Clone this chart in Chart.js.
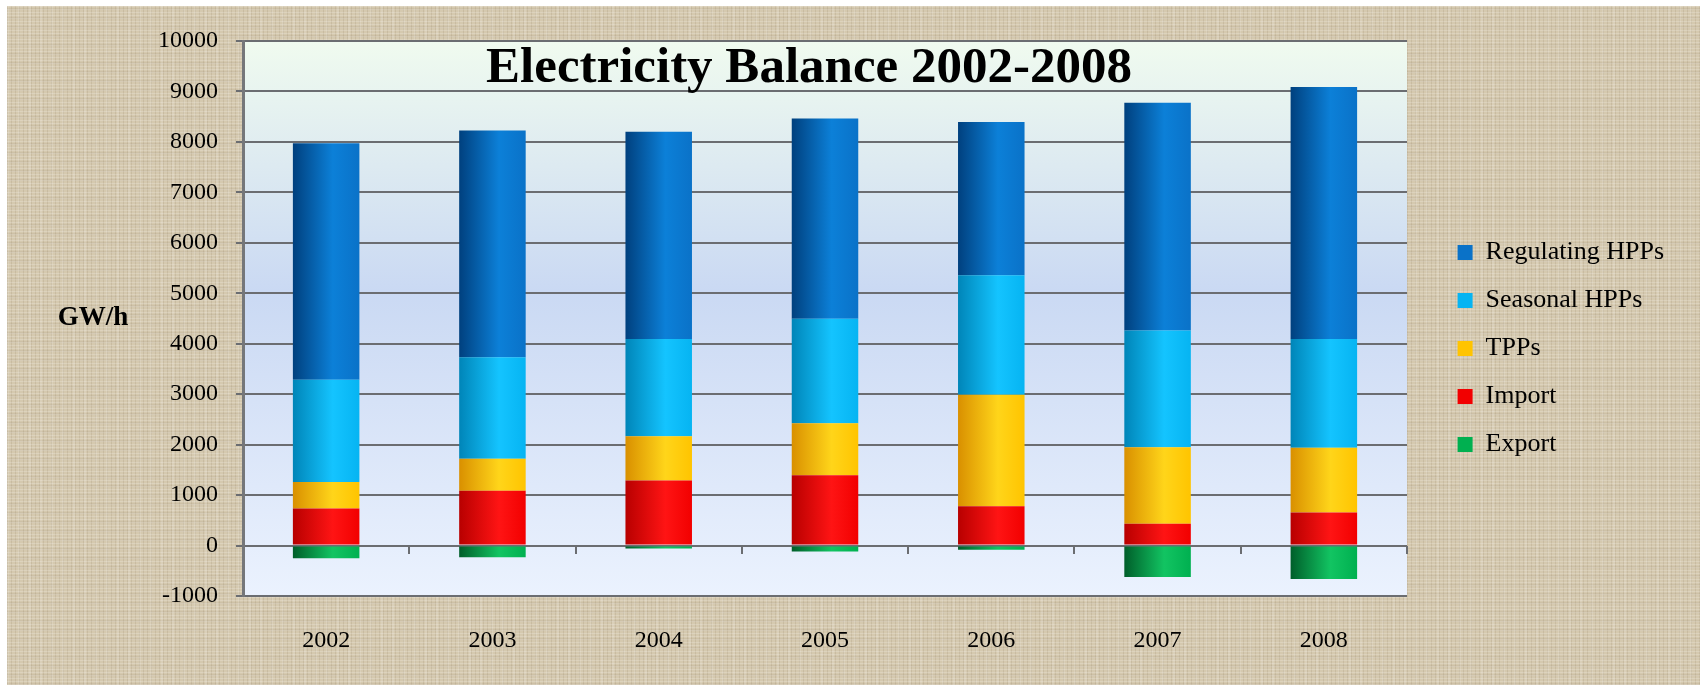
<!DOCTYPE html>
<html>
<head>
<meta charset="utf-8">
<script src="https://cdn.jsdelivr.net/npm/chart.js@4/dist/chart.umd.min.js"></script>
<style>
html,body{margin:0;padding:0;background:#fff;width:1700px;height:685px;overflow:hidden}
#bg{position:absolute;left:7px;top:6px;width:1693px;height:679px;background-color:#d5c9af;
background-image:
 repeating-linear-gradient(0deg, rgba(255,255,255,0.18) 0px, rgba(255,255,255,0.18) 1px, rgba(0,0,0,0) 1px, rgba(0,0,0,0) 3px),
 repeating-linear-gradient(90deg, rgba(110,90,60,0.12) 0px, rgba(110,90,60,0.12) 1px, rgba(0,0,0,0) 1px, rgba(0,0,0,0) 4px),
 repeating-linear-gradient(90deg, rgba(255,255,255,0.12) 0px, rgba(255,255,255,0.12) 2px, rgba(0,0,0,0) 2px, rgba(0,0,0,0) 11px),
 repeating-linear-gradient(0deg, rgba(110,90,60,0.08) 0px, rgba(110,90,60,0.08) 2px, rgba(0,0,0,0) 2px, rgba(0,0,0,0) 9px);}
#c{position:absolute;left:0;top:0}
</style>
</head>
<body>
<div id="bg"></div>
<canvas id="c" width="1700" height="685"></canvas>
<script>
// ---- data ----
const categories = ['2002', '2003', '2004', '2005', '2006', '2007', '2008'];
const legendOrder = ['Regulating HPPs', 'Seasonal HPPs', 'TPPs', 'Import', 'Export'];
const importValues     = [735, 1085, 1290, 1395, 780, 430, 655];
const tppValues        = [525, 635, 875, 1030, 2210, 1520, 1285];
const seasonalValues   = [2025, 2010, 1930, 2070, 2365, 2310, 2155];
const regulatingValues = [4690, 4495, 4105, 3970, 3040, 4515, 4995];
const exportValues     = [-250, -230, -60, -120, -85, -625, -665];
const chartTitle = 'Electricity Balance 2002-2008';
const unitLabel = 'GW/h';
const yMin = -1000, yMax = 10000, yStep = 1000;

// ---- styling ----
const FONT = "'Liberation Serif', serif";
const BAR_PCT = 0.4;
const PAD_RIGHT = 26;
Chart.defaults.font.family = FONT;
Chart.defaults.color = '#000';

function cylinder(solid, dark, light, edge) {
  return function (ctx) {
    if (ctx.type !== 'data') return solid;
    const xs = ctx.chart.scales.x;
    if (!xs) return solid;
    const cx = xs.getPixelForValue(ctx.dataIndex);
    const w = (xs.width / categories.length) * BAR_PCT;
    if (!isFinite(cx) || !isFinite(w) || w <= 0) return solid;
    const g = ctx.chart.ctx.createLinearGradient(cx - w / 2, 0, cx + w / 2, 0);
    g.addColorStop(0, dark);
    g.addColorStop(0.6, light);
    g.addColorStop(1, edge);
    return g;
  };
}

const decor = {
  id: 'decor',
  beforeDraw(chart) {
    const { ctx, chartArea: a } = chart;
    const g = ctx.createLinearGradient(0, a.top, 0, a.bottom);
    g.addColorStop(0, '#f0fbef');
    g.addColorStop(0.45, '#cad9f3');
    g.addColorStop(1, '#ebf2fe');
    ctx.save();
    ctx.fillStyle = g;
    ctx.fillRect(a.left, a.top, a.right - a.left, a.bottom - a.top);
    ctx.restore();
  },
  afterDraw(chart) {
    const { ctx, chartArea: a } = chart;
    ctx.save();
    ctx.fillStyle = '#000';
    ctx.textAlign = 'center';
    ctx.textBaseline = 'alphabetic';
    ctx.font = "bold 51px " + FONT;
    ctx.fillText(chartTitle, (a.left + a.right) / 2 - 16, a.top + 41);
    ctx.font = "bold 27px " + FONT;
    ctx.fillText(unitLabel, 93, 325);
    ctx.restore();
  }
};

const gridColor = '#6b6d71';

new Chart(document.getElementById('c'), {
  type: 'bar',
  data: {
    labels: categories,
    datasets: [
      { label: 'Import', data: importValues,
        backgroundColor: cylinder('#ff0000', '#b80000', '#ff1414', '#f20000') },
      { label: 'TPPs', data: tppValues,
        backgroundColor: cylinder('#ffc000', '#d99000', '#ffd51a', '#ffc400') },
      { label: 'Seasonal HPPs', data: seasonalValues,
        backgroundColor: cylinder('#00b0f0', '#0085b8', '#14c4ff', '#06b4f2') },
      { label: 'Regulating HPPs', data: regulatingValues,
        backgroundColor: cylinder('#0a70c6', '#00407e', '#0c80d8', '#0a72c8') },
      { label: 'Export', data: exportValues,
        backgroundColor: cylinder('#00b050', '#005e2a', '#12c462', '#00b050') }
    ]
  },
  options: {
    responsive: false,
    animation: false,
    layout: { padding: { left: 153, right: PAD_RIGHT, top: 41, bottom: 29 } },
    datasets: { bar: { barPercentage: BAR_PCT, categoryPercentage: 1, borderWidth: 0 } },
    plugins: {
      title: { display: false },
      tooltip: { enabled: false },
      legend: {
        position: 'right',
        align: 'center',
        labels: {
          font: { family: FONT, size: 26 },
          color: '#000',
          boxWidth: 15,
          boxHeight: 15,
          padding: 22,
          sort: (a, b) => legendOrder.indexOf(a.text) - legendOrder.indexOf(b.text)
        }
      }
    },
    scales: {
      x: {
        stacked: true,
        grid: { display: false, drawTicks: false, tickLength: 0 },
        border: { display: false },
        ticks: { color: '#000', font: { family: FONT, size: 24 }, padding: 30.6 },
        afterFit: s => { s.height = 60; }
      },
      x2: {
        type: 'category',
        position: { y: 0 },
        offset: true,
        grid: { offset: true, drawOnChartArea: false, drawTicks: true, tickLength: 8, color: gridColor, lineWidth: 2 },
        border: { display: false },
        ticks: { display: false },
        afterFit: s => { s.height = 0; }
      },
      y: {
        stacked: true,
        min: yMin,
        max: yMax,
        ticks: { stepSize: yStep, color: '#000', font: { family: FONT, size: 24 }, padding: 18,
                 callback: v => String(v) },
        grid: { color: gridColor, lineWidth: 2, tickLength: 7, drawTicks: true },
        border: { display: true, color: '#75777a', width: 3 },
        afterFit: s => { s.width = 90; }
      },
      yR: {
        type: 'linear',
        position: 'right',
        display: true,
        grid: { display: false, drawTicks: false },
        border: { display: false },
        ticks: { display: false },
        afterFit: s => {
          const lg = s.chart.legend;
          const lw = lg ? lg.width : 238;
          s.width = Math.max(0, s.chart.width - PAD_RIGHT - lw - 1407);
        }
      }
    }
  },
  plugins: [decor]
});
</script>
</body>
</html>
